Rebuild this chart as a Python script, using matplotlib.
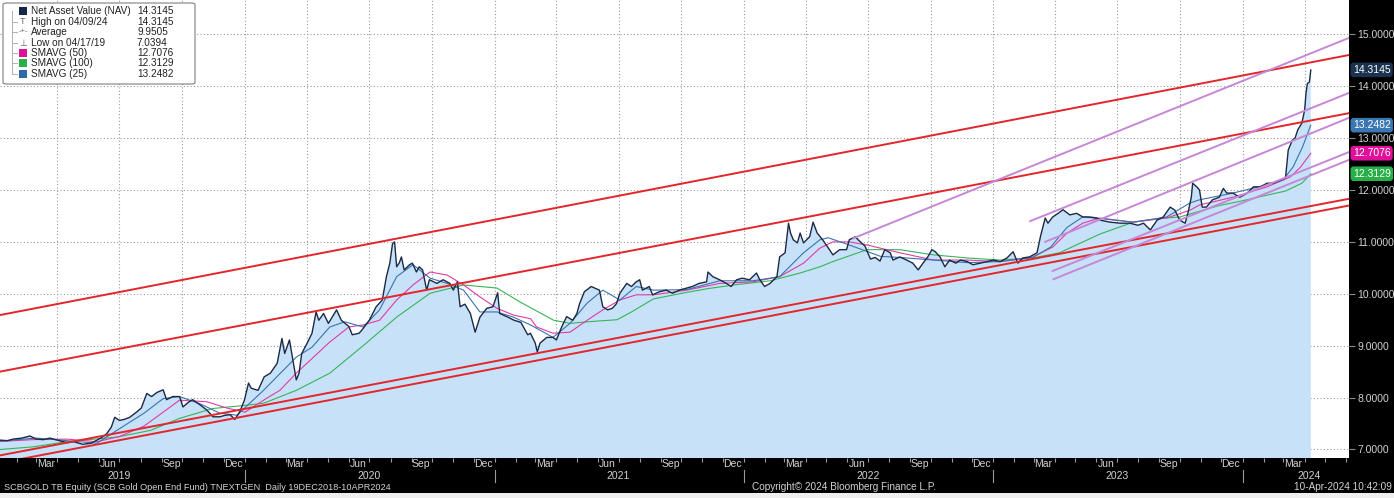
import matplotlib
matplotlib.use("Agg")
import matplotlib.pyplot as plt
import matplotlib.dates as mdates
import matplotlib.transforms as mtransforms
from matplotlib.patches import Rectangle, FancyBboxPatch
import pandas as pd

plt.rcParams['font.family'] = ['Liberation Sans', 'DejaVu Sans']

# ---- data ----
nav_dates = [
    "2018-12-19", "2018-12-28", "2019-01-07", "2019-01-18", "2019-01-26", "2019-02-08", "2019-02-20",
    "2019-03-01", "2019-03-12", "2019-03-21", "2019-04-01", "2019-04-15", "2019-04-25", "2019-05-08",
    "2019-05-20", "2019-05-29", "2019-06-06", "2019-06-12", "2019-06-19", "2019-06-24", "2019-07-01",
    "2019-07-08", "2019-07-16", "2019-07-26", "2019-08-02", "2019-08-10", "2019-08-17", "2019-08-25",
    "2019-09-03", "2019-09-08", "2019-09-17", "2019-09-27", "2019-10-02", "2019-10-09", "2019-10-16",
    "2019-10-27", "2019-11-06", "2019-11-15", "2019-11-25", "2019-12-03", "2019-12-10", "2019-12-17",
    "2019-12-24", "2019-12-31", "2020-01-06", "2020-01-10", "2020-01-20", "2020-01-29", "2020-02-07",
    "2020-02-17", "2020-02-24", "2020-02-28", "2020-03-06", "2020-03-16", "2020-03-20", "2020-03-24",
    "2020-04-01", "2020-04-08", "2020-04-14", "2020-04-18", "2020-04-25", "2020-05-02", "2020-05-14",
    "2020-05-21", "2020-06-01", "2020-06-06", "2020-06-16", "2020-06-20", "2020-07-01", "2020-07-11",
    "2020-07-20", "2020-07-26", "2020-07-31", "2020-08-04", "2020-08-07", "2020-08-10", "2020-08-14",
    "2020-08-17", "2020-08-21", "2020-08-29", "2020-09-02", "2020-09-08", "2020-09-12", "2020-09-17",
    "2020-09-23", "2020-09-27", "2020-10-08", "2020-10-17", "2020-10-27", "2020-11-01", "2020-11-07",
    "2020-11-11", "2020-11-18", "2020-11-26", "2020-12-03", "2020-12-10", "2020-12-20", "2020-12-29",
    "2021-01-05", "2021-01-08", "2021-01-20", "2021-01-29", "2021-02-08", "2021-02-18", "2021-02-22",
    "2021-03-01", "2021-03-04", "2021-03-08", "2021-03-18", "2021-03-27", "2021-04-01", "2021-04-09",
    "2021-04-16", "2021-04-25", "2021-05-01", "2021-05-05", "2021-05-12", "2021-05-22", "2021-05-27",
    "2021-06-03", "2021-06-08", "2021-06-15", "2021-06-22", "2021-06-28", "2021-07-03", "2021-07-13",
    "2021-07-20", "2021-07-27", "2021-08-01", "2021-08-05", "2021-08-15", "2021-08-20", "2021-08-30",
    "2021-09-09", "2021-09-18", "2021-09-28", "2021-10-09", "2021-10-17", "2021-10-27", "2021-11-07",
    "2021-11-09", "2021-11-16", "2021-11-26", "2021-12-06", "2021-12-13", "2021-12-21", "2021-12-29",
    "2022-01-09", "2022-01-19", "2022-01-24", "2022-01-31", "2022-02-08", "2022-02-18", "2022-02-22",
    "2022-03-02", "2022-03-07", "2022-03-10", "2022-03-14", "2022-03-20", "2022-03-24", "2022-03-29",
    "2022-04-07", "2022-04-12", "2022-04-18", "2022-04-26", "2022-05-06", "2022-05-11", "2022-05-21",
    "2022-05-31", "2022-06-04", "2022-06-13", "2022-06-17", "2022-06-27", "2022-07-05", "2022-07-12",
    "2022-07-19", "2022-07-26", "2022-08-03", "2022-08-07", "2022-08-17", "2022-08-27", "2022-09-05",
    "2022-09-13", "2022-09-20", "2022-09-27", "2022-10-03", "2022-10-08", "2022-10-15", "2022-10-22",
    "2022-10-29", "2022-11-07", "2022-11-14", "2022-11-24", "2022-12-02", "2022-12-13", "2022-12-23",
    "2023-01-01", "2023-01-11", "2023-01-21", "2023-01-30", "2023-02-06", "2023-02-13", "2023-02-23",
    "2023-03-06", "2023-03-11", "2023-03-18", "2023-03-22", "2023-03-29", "2023-04-06", "2023-04-13",
    "2023-04-23", "2023-05-03", "2023-05-12", "2023-05-22", "2023-06-02", "2023-06-06", "2023-06-21",
    "2023-07-06", "2023-07-20", "2023-08-01", "2023-08-09", "2023-08-19", "2023-08-29", "2023-09-07",
    "2023-09-17", "2023-09-24", "2023-10-01", "2023-10-09", "2023-10-13", "2023-10-18", "2023-10-20",
    "2023-10-26", "2023-10-30", "2023-11-03", "2023-11-09", "2023-11-18", "2023-11-28", "2023-12-04",
    "2023-12-09", "2023-12-18", "2023-12-28", "2024-01-08", "2024-01-17", "2024-01-27", "2024-02-06",
    "2024-02-15", "2024-02-26", "2024-03-04", "2024-03-08", "2024-03-14", "2024-03-18", "2024-03-22",
    "2024-03-28", "2024-04-01", "2024-04-03", "2024-04-05", "2024-04-08", "2024-04-10",
]
nav_values = [
    7.10, 7.15, 7.18, 7.17, 7.20, 7.22, 7.26,
    7.20, 7.19, 7.22, 7.18, 7.13, 7.15, 7.10,
    7.12, 7.18, 7.24, 7.30, 7.43, 7.62, 7.56,
    7.58, 7.62, 7.72, 7.80, 8.08, 8.02, 8.10,
    8.15, 7.96, 8.02, 8.02, 7.82, 7.90, 7.96,
    7.86, 7.76, 7.63, 7.63, 7.66, 7.67, 7.58,
    7.72, 7.95, 8.28, 8.18, 8.14, 8.40, 8.47,
    8.66, 9.14, 8.85, 9.11, 8.34, 8.47, 8.85,
    9.05, 9.24, 9.65, 9.49, 9.62, 9.43, 9.69,
    9.49, 9.37, 9.21, 9.24, 9.30, 9.49, 9.75,
    9.88, 10.33, 10.59, 10.97, 11.00, 10.52, 10.60,
    10.71, 10.46, 10.56, 10.59, 10.42, 10.52, 10.46,
    10.07, 10.27, 10.20, 10.27, 10.20, 10.07, 10.23,
    9.75, 9.80, 9.62, 9.26, 9.55, 9.72, 9.75,
    10.02, 9.62, 9.55, 9.49, 9.45, 9.21, 9.24,
    9.05, 8.88, 9.05, 9.16, 9.16, 9.11, 9.37,
    9.56, 9.49, 9.62, 9.81, 10.04, 10.14, 10.11,
    10.07, 9.75, 9.69, 9.72, 9.81, 10.01, 10.20,
    10.14, 10.23, 10.27, 10.07, 10.14, 9.98, 10.04,
    10.07, 10.01, 10.07, 10.11, 10.14, 10.20, 10.23,
    10.42, 10.33, 10.27, 10.20, 10.14, 10.27, 10.30,
    10.27, 10.40, 10.27, 10.14, 10.20, 10.33, 10.71,
    10.79, 11.36, 11.17, 11.04, 10.98, 11.17, 10.98,
    11.10, 11.38, 11.17, 11.04, 10.85, 10.75, 10.85,
    10.85, 11.04, 11.10, 11.04, 10.92, 10.67, 10.70,
    10.63, 10.85, 10.79, 10.65, 10.71, 10.65, 10.59,
    10.46, 10.59, 10.71, 10.85, 10.81, 10.71, 10.52,
    10.65, 10.59, 10.65, 10.62, 10.56, 10.59, 10.62,
    10.65, 10.62, 10.69, 10.81, 10.59, 10.69, 10.71,
    10.79, 11.10, 11.46, 11.36, 11.48, 11.55, 11.62,
    11.52, 11.55, 11.48, 11.48, 11.46, 11.42, 11.38,
    11.36, 11.36, 11.32, 11.36, 11.23, 11.42, 11.48,
    11.67, 11.61, 11.42, 11.36, 11.55, 11.86, 12.13,
    12.06, 12.00, 11.67, 11.67, 11.81, 11.86, 12.03,
    11.94, 11.94, 11.86, 11.94, 12.06, 12.06, 12.13,
    12.13, 12.19, 12.23, 12.77, 12.96, 13.00, 13.16,
    13.29, 13.54, 13.86, 14.05, 14.08, 14.31,
]

sma25_dates = [
    "2018-12-19", "2019-03-01", "2019-04-15", "2019-05-29", "2019-07-01", "2019-08-06", "2019-09-03",
    "2019-09-27", "2019-10-27", "2019-11-25", "2019-12-20", "2020-01-28", "2020-03-16", "2020-04-08",
    "2020-05-04", "2020-05-26", "2020-06-22", "2020-07-16", "2020-08-10", "2020-09-03", "2020-09-28",
    "2020-10-23", "2020-11-16", "2020-12-10", "2021-01-04", "2021-01-28", "2021-02-22", "2021-03-27",
    "2021-04-21", "2021-05-16", "2021-06-08", "2021-07-03", "2021-07-27", "2021-08-21", "2021-10-09",
    "2021-11-26", "2022-01-14", "2022-02-22", "2022-03-29", "2022-04-22", "2022-05-04", "2022-06-04",
    "2022-07-20", "2022-08-17", "2022-10-05", "2022-11-24", "2023-01-11", "2023-02-28", "2023-03-26",
    "2023-04-19", "2023-05-12", "2023-06-06", "2023-07-25", "2023-09-12", "2023-10-16", "2023-10-30",
    "2023-12-18", "2024-02-06", "2024-02-29", "2024-03-15", "2024-03-29", "2024-04-10",
]
sma25_values = [
    7.14, 7.22, 7.17, 7.12, 7.40, 7.70, 7.98,
    8.02, 7.88, 7.70, 7.66, 8.14, 8.78, 8.97,
    9.36, 9.46, 9.36, 9.69, 10.33, 10.56, 10.30,
    10.20, 10.07, 9.65, 9.65, 9.55, 9.40, 9.16,
    9.43, 9.82, 10.07, 9.88, 10.14, 10.07, 10.08,
    10.25, 10.25, 10.33, 10.79, 11.04, 11.08, 10.94,
    10.72, 10.70, 10.65, 10.60, 10.62, 10.70, 10.90,
    11.28, 11.48, 11.45, 11.38, 11.48, 11.75, 11.81,
    11.94, 12.10, 12.19, 12.44, 12.83, 13.2482,
]

sma50_dates = [
    "2018-12-19", "2019-02-24", "2019-04-15", "2019-05-29", "2019-07-01", "2019-08-06", "2019-09-27",
    "2019-11-06", "2019-12-05", "2020-01-01", "2020-02-02", "2020-02-21", "2020-03-16", "2020-05-04",
    "2020-06-01", "2020-06-22", "2020-07-16", "2020-08-10", "2020-09-03", "2020-09-28", "2020-10-23",
    "2020-11-16", "2020-12-10", "2021-01-04", "2021-01-28", "2021-02-22", "2021-03-03", "2021-03-27",
    "2021-04-21", "2021-05-16", "2021-06-08", "2021-07-03", "2021-07-27", "2021-08-21", "2021-10-09",
    "2021-11-26", "2022-01-14", "2022-02-22", "2022-03-29", "2022-04-22", "2022-05-11", "2022-06-04",
    "2022-06-30", "2022-08-17", "2022-10-05", "2022-11-24", "2023-01-11", "2023-02-28", "2023-03-29",
    "2023-04-19", "2023-05-12", "2023-06-06", "2023-07-25", "2023-09-12", "2023-10-16", "2023-10-30",
    "2023-12-18", "2024-02-06", "2024-03-11", "2024-03-26", "2024-04-10",
]
sma50_values = [
    7.14, 7.19, 7.20, 7.15, 7.25, 7.45, 7.95,
    7.92, 7.80, 7.72, 7.99, 8.14, 8.47, 9.07,
    9.36, 9.40, 9.49, 9.88, 10.17, 10.42, 10.36,
    10.17, 9.94, 9.72, 9.59, 9.52, 9.36, 9.24,
    9.26, 9.49, 9.69, 9.88, 9.98, 9.98, 10.07,
    10.20, 10.23, 10.33, 10.59, 10.88, 11.00, 11.00,
    10.94, 10.79, 10.65, 10.65, 10.62, 10.71, 10.90,
    11.17, 11.36, 11.46, 11.38, 11.46, 11.61, 11.71,
    11.86, 12.06, 12.25, 12.44, 12.7076,
]

sma100_dates = [
    "2018-12-19", "2019-02-24", "2019-04-15", "2019-06-28", "2019-08-16", "2019-09-27", "2019-11-15",
    "2020-01-01", "2020-01-28", "2020-03-16", "2020-05-04", "2020-06-22", "2020-08-10", "2020-09-28",
    "2020-11-16", "2021-01-04", "2021-02-07", "2021-03-28", "2021-04-21", "2021-05-16", "2021-06-29",
    "2021-07-20", "2021-08-21", "2021-09-28", "2021-11-09", "2021-12-23", "2022-02-08", "2022-03-24",
    "2022-04-22", "2022-05-11", "2022-06-30", "2022-08-17", "2022-10-05", "2022-11-24", "2023-01-11",
    "2023-02-28", "2023-04-08", "2023-06-06", "2023-07-25", "2023-09-01", "2023-10-01", "2023-11-28",
    "2023-12-28", "2024-02-06", "2024-03-04", "2024-03-28", "2024-04-10",
]
sma100_values = [
    6.98, 7.05, 7.15, 7.24, 7.37, 7.60, 7.79,
    7.85, 7.89, 8.14, 8.47, 9.00, 9.55, 10.01,
    10.17, 10.11, 9.84, 9.49, 9.43, 9.46, 9.50,
    9.65, 9.90, 10.00, 10.10, 10.18, 10.25, 10.40,
    10.52, 10.62, 10.85, 10.85, 10.75, 10.69, 10.65,
    10.69, 10.79, 11.15, 11.38, 11.45, 11.48, 11.70,
    11.78, 11.90, 11.98, 12.13, 12.3129,
]

# hand-drawn trend lines: (start date, start value, end date, end value)
red_lines = [
    ("2019-01-07", 9.59, "2024-06-05", 14.60),
    ("2019-01-07", 8.50, "2024-06-05", 13.48),
    ("2019-01-07", 6.886, "2024-06-05", 11.83),
    ("2019-01-07", 6.74, "2024-06-05", 11.70),
]
violet_lines = [
    ("2022-06-10", 11.07, "2024-06-05", 14.93),
    ("2023-02-24", 11.40, "2024-06-05", 13.87),
    ("2023-03-18", 11.00, "2024-06-05", 13.39),
    ("2023-03-29", 10.44, "2024-06-05", 12.73),
    ("2023-03-30", 10.28, "2024-06-05", 12.58),
]

legend_rows = ["Net Asset Value (NAV)", "High on 04/09/24", "Average", "Low on 04/17/19",
               "SMAVG (50)", "SMAVG (100)", "SMAVG (25)"]
legend_vals = ["14.3145", "14.3145", "9.9505", "7.0394", "12.7076", "12.3129", "13.2482"]

nav_d = pd.to_datetime(nav_dates)
W, H = 1394, 498

fig = plt.figure(figsize=(W / 100, H / 100), dpi=100)
fig.patch.set_facecolor('black')
ax = fig.add_axes([0, 40 / H, 1349 / W, 458 / H])
ax.set_facecolor('white')

ax.fill_between(nav_d, nav_values, 0, color='#c7e1f8', lw=0)
ax.plot(pd.to_datetime(sma100_dates), sma100_values, color='#36b558', lw=0.8)
ax.plot(pd.to_datetime(sma50_dates), sma50_values, color='#e23aa6', lw=0.8)
ax.plot(pd.to_datetime(sma25_dates), sma25_values, color='#3a73ad', lw=0.8)
ax.plot(nav_d, nav_values, color='#1c2a45', lw=1.0)

for d0, v0, d1, v1 in red_lines:
    ax.plot(pd.to_datetime([d0, d1]), [v0, v1], color='#e2262b', lw=1.4)
for d0, v0, d1, v1 in violet_lines:
    ax.plot(pd.to_datetime([d0, d1]), [v0, v1], color='#c587d6', lw=1.4)

ax.set_xlim(pd.Timestamp("2019-01-07"), pd.Timestamp("2024-06-05"))
ax.set_ylim(6.836, 15.66)

# grid
ax.set_yticks(range(7, 16))
ax.set_yticklabels(['%.4f' % v for v in range(7, 16)])
qstarts = pd.date_range("2019-04-01", "2024-04-01", freq="QS")
for q in qstarts:
    ax.axvline(q, color='#9a9a9a', lw=0.8, ls=(0, (1, 2)), zorder=0.5)
for v in range(7, 16):
    ax.axhline(v, color='#9a9a9a', lw=0.8, ls=(0, (1, 2)), zorder=0.5)

ax.yaxis.tick_right()
ax.tick_params(axis='y', colors='#8a8a8a', labelcolor='#d2d2d2', labelsize=7.5, length=4, pad=2)

ax.set_xticks(pd.date_range("2019-02-01", "2024-06-01", freq="MS"))
ax.xaxis.set_major_formatter(plt.NullFormatter())
ax.tick_params(axis='x', which='major', colors='#9a9a9a', length=3, width=0.8)
mids = [d + pd.Timedelta(days=14) for d in pd.date_range("2019-03-01", "2024-03-01", freq="MS")
        if d.month in (3, 6, 9, 12)]
ax.set_xticks(mids, minor=True)
ax.xaxis.set_minor_formatter(mdates.DateFormatter('%b'))
ax.tick_params(axis='x', which='minor', length=0, labelcolor='#d2d2d2', labelsize=7.5, pad=1)
for s in ax.spines.values():
    s.set_visible(False)

# year row
xt = mtransforms.blended_transform_factory(ax.transData, ax.transAxes)
years = ["2019", "2020", "2021", "2022", "2023", "2024"]
year_pos = ["2019-07-01", "2020-07-01", "2021-07-01", "2022-07-01", "2023-07-01", "2024-04-08"]
for y, p in zip(years, year_pos):
    ax.text(pd.Timestamp(p), -18 / 458, y, transform=xt, ha='center', va='center',
            color='#d2d2d2', fontsize=7.5)
for y in years[1:]:
    ax.plot([pd.Timestamp(y + "-01-01")] * 2, [-12 / 458, -24 / 458], transform=xt,
            color='#9a9a9a', lw=0.8, clip_on=False)

# value tags on right axis
yt = mtransforms.blended_transform_factory(ax.transAxes, ax.transData)
tags = [(14.3145, '#1b3350'), (13.2482, '#3a78b4'), (12.7076, '#e0109a'), (12.3129, '#27b048')]
for val, col in tags:
    ax.text(1.0028, val, '%.4f' % val, transform=yt, ha='left', va='center', fontsize=7.5,
            color='white', clip_on=False,
            bbox=dict(boxstyle='round,pad=0.22,rounding_size=0.3', fc=col, ec='none'))

# legend box (top-left)
def fx(px):
    return px / W


def fy(py):
    return 1 - py / H


fig.patches.append(FancyBboxPatch((fx(3), fy(84)), fx(192), 81 / H, transform=fig.transFigure,
                                  boxstyle='round,pad=0,rounding_size=0.003', fc='white',
                                  ec='#8c8c8c', lw=0.9, zorder=5))
row_y = [11, 22, 32, 43, 53, 63, 74]
fig.add_artist(plt.Line2D([fx(12), fx(12)], [fy(11), fy(74)], transform=fig.transFigure,
                          color='#b0b0b0', lw=0.7, zorder=6))
for ry in row_y[1:]:
    fig.add_artist(plt.Line2D([fx(12), fx(17)], [fy(ry), fy(ry)], transform=fig.transFigure,
                              color='#b0b0b0', lw=0.7, zorder=6))
sq_cols = ['#14284a', None, None, None, '#e0109a', '#27b048', '#2e6aa8']
for i, (lab, val) in enumerate(zip(legend_rows, legend_vals)):
    ry = row_y[i]
    if sq_cols[i]:
        fig.patches.append(Rectangle((fx(19), fy(ry + 4)), fx(8), 8 / H, transform=fig.transFigure,
                                     fc=sq_cols[i], ec='none', zorder=7))
    fig.text(fx(31), fy(ry), lab, ha='left', va='center', fontsize=7.2, color='#222222', zorder=8)
    fig.text(fx(137), fy(ry), val, ha='left', va='center', fontsize=7.2, color='#222222', zorder=8)
# icons for high / average / low
fig.text(fx(23), fy(22), 'T', ha='center', va='center', fontsize=6.5, color='#666666', zorder=8)
fig.text(fx(23), fy(32), '-+-', ha='center', va='center', fontsize=5.5, color='#666666', zorder=8)
fig.text(fx(23), fy(43), '\u22a5', ha='center', va='center', fontsize=6.5, color='#666666', zorder=8)

# footer
fig.text(fx(4), fy(487), "SCBGOLD TB Equity (SCB Gold Open End Fund) TNEXTGEN  Daily 19DEC2018-10APR2024",
         ha='left', va='center', fontsize=6.6, color='#d2d2d2')
fig.text(fx(752), fy(487), "Copyright\u00a9 2024 Bloomberg Finance L.P.",
         ha='left', va='center', fontsize=7.2, color='#d2d2d2')
fig.text(fx(1392), fy(487), "10-Apr-2024 10:42:09", ha='right', va='center', fontsize=7.2,
         color='#d2d2d2')
fig.patches.append(Rectangle((0, 0), 1, 5 / H, transform=fig.transFigure, fc='#efefef', ec='none'))

fig.savefig("out.png", dpi=100, facecolor=fig.get_facecolor())
